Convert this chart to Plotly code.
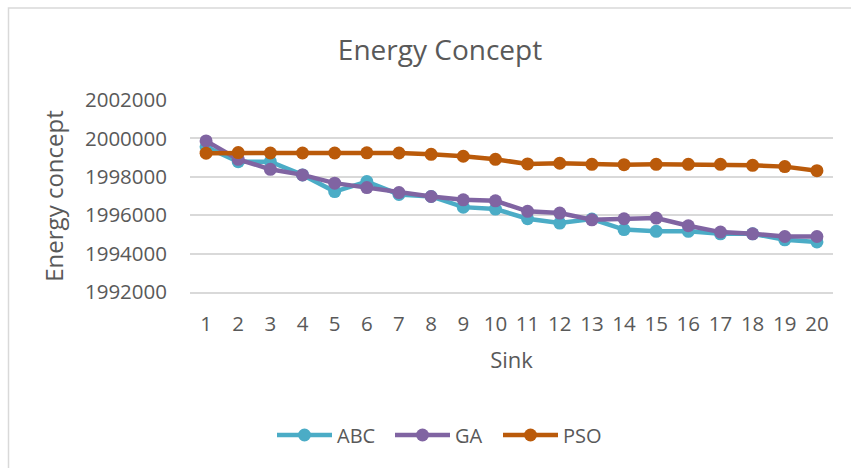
import plotly.graph_objects as go

sinks = list(range(1, 21))
abc = [1999560, 1998790, 1998790, 1998100, 1997230, 1997750, 1997080, 1996975, 1996420, 1996320,
       1995815, 1995590, 1995800, 1995250, 1995160, 1995160, 1995030, 1995030, 1994720, 1994610]
ga = [1999870, 1998910, 1998390, 1998100, 1997670, 1997440, 1997180, 1996975, 1996800, 1996750,
      1996200, 1996110, 1995760, 1995815, 1995850, 1995450, 1995120, 1995030, 1994890, 1994890]
pso = [1999230, 1999260, 1999240, 1999240, 1999240, 1999250, 1999240, 1999170, 1999070, 1998910,
       1998670, 1998705, 1998650, 1998630, 1998650, 1998650, 1998650, 1998600, 1998530, 1998320]
y_ticks = [1992000, 1994000, 1996000, 1998000, 2000000, 2002000]
series_names = ["ABC", "GA", "PSO"]
series_colors = ["#4BACC6", "#8064A2", "#BA5A0A"]

FONT = "Open Sans"
GREY = "#595959"
GRID = "#D9D9D9"

# plot-area geometry (pixels) used to place layout decorations
L, R, T, B = 190, 18, 100, 176
PW, PH = 851 - L - R, 468 - T - B


def px_x(p):
    return (p - L) / PW


def px_y(p):
    return (468 - B - p) / PH


fig = go.Figure()
for name, vals, col in zip(series_names, [abc, ga, pso], series_colors):
    fig.add_trace(go.Scatter(
        x=sinks, y=vals, name=name, mode="lines+markers",
        line=dict(color=col, width=4.5),
        marker=dict(color=col, size=13),
        showlegend=False,
    ))

fig.update_layout(
    width=851, height=468,
    margin=dict(l=L, r=R, t=T, b=B),
    paper_bgcolor="white", plot_bgcolor="white",
    font=dict(family=FONT, color=GREY),
    title=dict(text="Energy Concept", x=440/851, xanchor="center", xref="container",
               y=1 - 50/468, yanchor="middle", yref="container",
               font=dict(size=28, color=GREY, family=FONT)),
    showlegend=False,
)
fig.update_xaxes(
    range=[0.5, 20.5], tickmode="array", tickvals=sinks, ticktext=[str(s) for s in sinks],
    showgrid=False, zeroline=False, showline=True, linecolor=GRID, linewidth=1.5,
    ticks="", ticklabelstandoff=13,
    tickfont=dict(size=20.5, color=GREY, family=FONT),
    title=dict(text="Sink", font=dict(size=22, color=GREY, family=FONT), standoff=16),
)
fig.update_yaxes(
    range=[1992000, 2002000], tickmode="array", tickvals=y_ticks,
    ticktext=[str(v) for v in y_ticks],
    showgrid=True, gridcolor=GRID, gridwidth=1.5, zeroline=False, showline=False,
    ticks="", ticklabelstandoff=22,
    tickfont=dict(size=20.5, color=GREY, family=FONT),
    title=dict(text="Energy concept", font=dict(size=24, color=GREY, family=FONT), standoff=14),
)

# custom legend (long line + marker, like the original)
legend_y = 435
legend_starts = [277, 395, 503]
for name, col, x0 in zip(series_names, series_colors, legend_starts):
    fig.add_shape(type="line", xref="paper", yref="paper",
                  x0=px_x(x0), x1=px_x(x0 + 55), y0=px_y(legend_y), y1=px_y(legend_y),
                  line=dict(color=col, width=4.5))
    fig.add_shape(type="circle", xref="paper", yref="paper",
                  x0=px_x(x0 + 27.5 - 6.5), x1=px_x(x0 + 27.5 + 6.5),
                  y0=px_y(legend_y + 6.5), y1=px_y(legend_y - 6.5),
                  line=dict(color=col, width=0), fillcolor=col)
    fig.add_annotation(text=name, xref="paper", yref="paper",
                       x=px_x(x0 + 58), y=px_y(legend_y), xanchor="left", yanchor="middle",
                       showarrow=False, font=dict(size=20, color=GREY, family=FONT))

# light outer chart border (top and left edges visible)
fig.add_shape(type="rect", xref="paper", yref="paper",
              x0=px_x(8.5), x1=2.0, y0=-2.0, y1=px_y(8),
              line=dict(color=GRID, width=1.5), fillcolor="rgba(0,0,0,0)", layer="below")

fig.write_html("out.html")
